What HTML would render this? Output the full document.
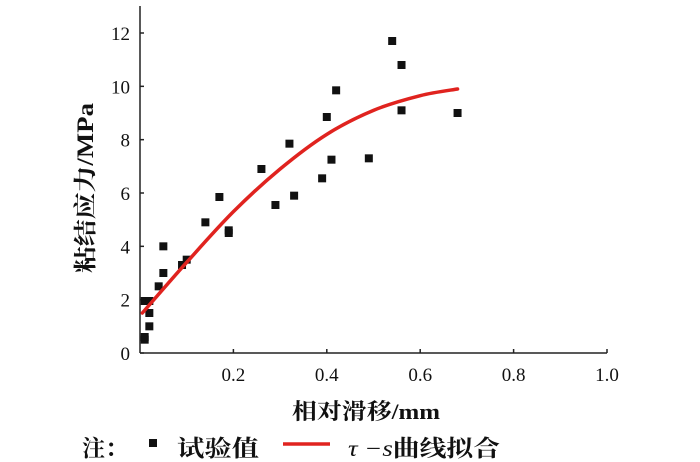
<!DOCTYPE html>
<html><head><meta charset="utf-8"><style>
body{margin:0;background:#fff;width:700px;height:462px;overflow:hidden}
svg{display:block}
.t{font-family:"Liberation Serif","Noto Serif CJK SC",serif;fill:#111}
.c{font-family:"Liberation Serif","Noto Serif CJK SC",serif;fill:#111;font-weight:bold}
</style></head><body>
<svg id="chart" width="700" height="462">
<g id="axes"></g>
<g id="pts"></g>
<path id="fit" fill="none" stroke="#e0231f" stroke-width="3.5" stroke-linecap="round"/>
<text class="c" x="0" y="0" font-size="23" text-anchor="middle" textLength="170" lengthAdjust="spacingAndGlyphs" transform="translate(93,188) rotate(-90)">粘结应力/MPa</text>
<text class="c" x="292" y="419" font-size="22" textLength="148" lengthAdjust="spacingAndGlyphs">相对滑移/mm</text>
<g>
<text class="c" x="82" y="456" font-size="23" textLength="46" lengthAdjust="spacingAndGlyphs">注：</text>
<rect x="149" y="439" width="8" height="8" fill="#111"/>
<text class="c" x="177" y="456" font-size="23" textLength="82" lengthAdjust="spacingAndGlyphs">试验值</text>
<line x1="283" y1="444" x2="330" y2="444" stroke="#e0231f" stroke-width="3.5"/>
<text class="c" x="348" y="456" font-size="23" textLength="152" lengthAdjust="spacingAndGlyphs"><tspan font-style="italic" font-weight="normal">τ −s</tspan>曲线拟合</text>
</g>
</svg>
<script>
const xTicks=[0.2,0.4,0.6,0.8,1.0];
const xTickLabels=["0.2","0.4","0.6","0.8","1.0"];
const yTicks=[0,2,4,6,8,10,12];
const yTickLabels=["0","2","4","6","8","10","12"];
const ptX=[0.01,0.01,0.01,0.02,0.02,0.02,0.04,0.05,0.05,0.09,0.1,0.14,0.17,0.19,0.19,0.26,0.29,0.32,0.33,0.39,0.40,0.41,0.42,0.49,0.54,0.56,0.56,0.68];
const ptY=[0.5,0.6,1.95,1.95,1.5,1.0,2.5,3.0,4.0,3.3,3.5,4.9,5.85,4.6,4.5,6.9,5.55,7.85,5.9,6.55,8.85,7.25,9.85,7.3,11.7,10.8,9.1,9.0];
const fitX=[0.005,0.1,0.2,0.3,0.4,0.5,0.6,0.68];
const fitY=[1.5,3.4,5.3,6.9,8.2,9.1,9.65,9.9];
const X0=140,X1=607,Y0=353,Y12=33;
const sx=v=>X0+(X1-X0)*v;
const sy=v=>Y0-(Y0-Y12)*v/12;
const NS="http://www.w3.org/2000/svg";
const ax=document.getElementById('axes');
function mk(tag,at,par){const e=document.createElementNS(NS,tag);for(const k in at)e.setAttribute(k,at[k]);par.appendChild(e);return e;}
let l=mk('line',{x1:X0,y1:6,x2:X0,y2:Y0,stroke:'#222','stroke-width':1.5},ax);


l=mk('line',{x1:X0,y1:Y0,x2:X1,y2:Y0,stroke:'#222','stroke-width':1.5},ax);


xTicks.forEach((v,i)=>{
 const t=mk('line',{x1:sx(v),y1:Y0,x2:sx(v),y2:Y0-4,stroke:'#222','stroke-width':1.5},ax);
 
 
 const tx=mk('text',{x:sx(v),y:Y0+28,'font-size':19,'text-anchor':'middle',class:'t'},ax);
 tx.textContent=xTickLabels[i];
 
 
});
yTicks.forEach((v,i)=>{
 const t=mk('line',{x1:X0,y1:sy(v),x2:X0+4,y2:sy(v),stroke:'#222','stroke-width':1.5},ax);
 
 
 const tx=mk('text',{x:X0-10,y:sy(v)+7,'font-size':19,'text-anchor':'end',class:'t'},ax);
 tx.textContent=yTickLabels[i];
 
 
});
const pg=document.getElementById('pts');
ptX.forEach((v,i)=>{
 const r=mk('rect',{x:sx(v)-4,y:sy(ptY[i])-4,width:8,height:8,fill:'#111'},pg);
 
 
});
const P=fitX.map((v,i)=>[sx(v),sy(fitY[i])]);
let d='M'+P[0][0]+','+P[0][1];
for(let i=0;i<P.length-1;i++){
 const p0=P[Math.max(0,i-1)],p1=P[i],p2=P[i+1],p3=P[Math.min(P.length-1,i+2)];
 const c1=[p1[0]+(p2[0]-p0[0])/6,p1[1]+(p2[1]-p0[1])/6];
 const c2=[p2[0]-(p3[0]-p1[0])/6,p2[1]-(p3[1]-p1[1])/6];
 d+=` C${c1[0]},${c1[1]} ${c2[0]},${c2[1]} ${p2[0]},${p2[1]}`;
}
document.getElementById('fit').setAttribute('d',d);
</script>
</body></html>
